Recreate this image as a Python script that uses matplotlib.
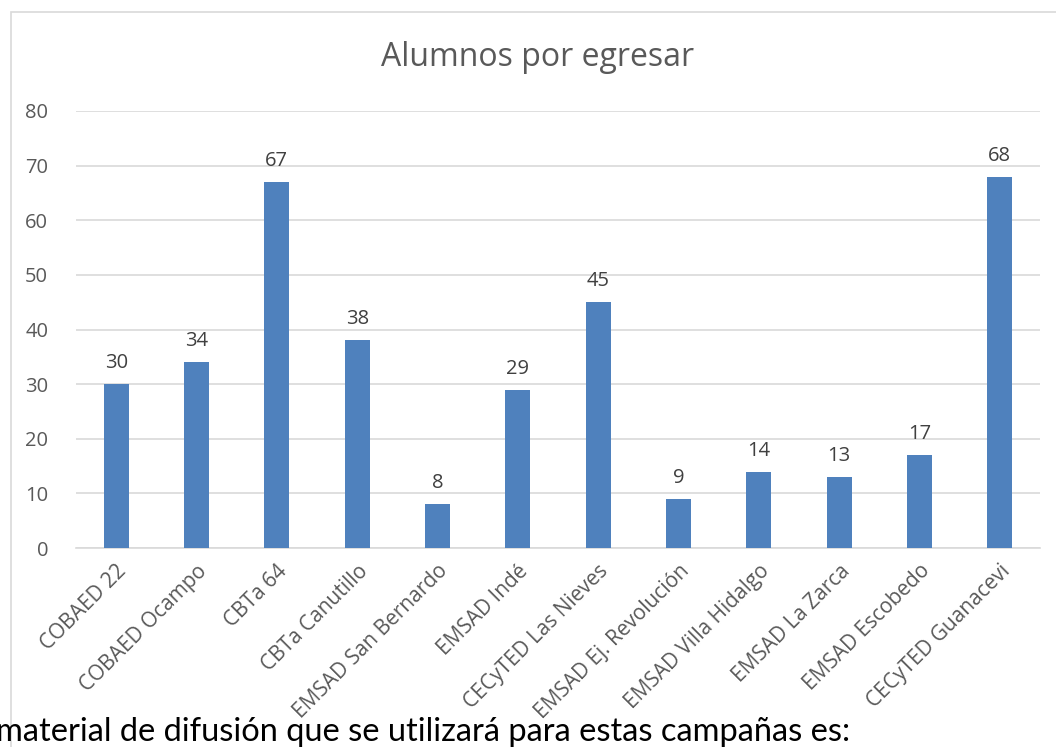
import matplotlib.pyplot as plt
from matplotlib.patches import Rectangle

# data
escuelas = ["COBAED 22", "COBAED Ocampo", "CBTa 64", "CBTa Canutillo",
            "EMSAD San Bernardo", "EMSAD Indé", "CECyTED Las Nieves",
            "EMSAD Ej. Revolución", "EMSAD Villa Hidalgo", "EMSAD La Zarca",
            "EMSAD Escobedo", "CECyTED Guanacevi"]
alumnos = [30, 34, 67, 38, 8, 29, 45, 9, 14, 13, 17, 68]
y_ticks = [0, 10, 20, 30, 40, 50, 60, 70, 80]

plt.rcParams['font.family'] = ['Open Sans', 'DejaVu Sans']
txt = '#595959'

fig = plt.figure(figsize=(10.56, 7.47), dpi=100)
ax = fig.add_axes([76 / 1056, 1 - 548 / 747, 964 / 1056, 437 / 747])

x = list(range(len(escuelas)))
bars = ax.bar(x, alumnos, width=0.31, color='#4F81BD', zorder=3)
for b, v in zip(bars, alumnos):
    ax.text(b.get_x() + b.get_width() / 2, v + 2.0, str(v), ha='center',
            va='bottom', fontsize=14.5, color='#404040')

ax.set_xlim(-0.5, len(escuelas) - 0.5)
ax.set_ylim(0, 80)
ax.set_yticks(y_ticks)
ax.grid(axis='y', color='#D9D9D9', linewidth=1.2, zorder=0)
ax.set_xticks(x)
ax.set_xticklabels(escuelas, rotation=45, ha='right', rotation_mode='anchor',
                   fontsize=15, color=txt)
ax.tick_params(axis='y', labelsize=14.5, labelcolor=txt, length=0, pad=20)
ax.tick_params(axis='x', length=0, pad=9)
for s in ['top', 'right', 'left']:
    ax.spines[s].set_visible(False)
ax.spines['bottom'].set_color('#D9D9D9')
ax.spines['bottom'].set_linewidth(1.2)

fig.text(538 / 1056, 1 - 57 / 747, 'Alumnos por egresar', ha='center',
         va='center', fontsize=23, color=txt)

# chart frame
fig.add_artist(Rectangle((11 / 1056, -0.05), 1.2, 1 - 12 / 747 + 0.05,
                         transform=fig.transFigure, fill=False,
                         edgecolor='#D9D9D9', linewidth=1.2))

fig.text(-4 / 1056, 1 - 741 / 747, 'material de difusión que se utilizará para estas campañas es:',
         ha='left', va='baseline', fontsize=23.5, color='black',
         family=['Lato', 'DejaVu Sans'])

fig.savefig('out.png', dpi=100)
